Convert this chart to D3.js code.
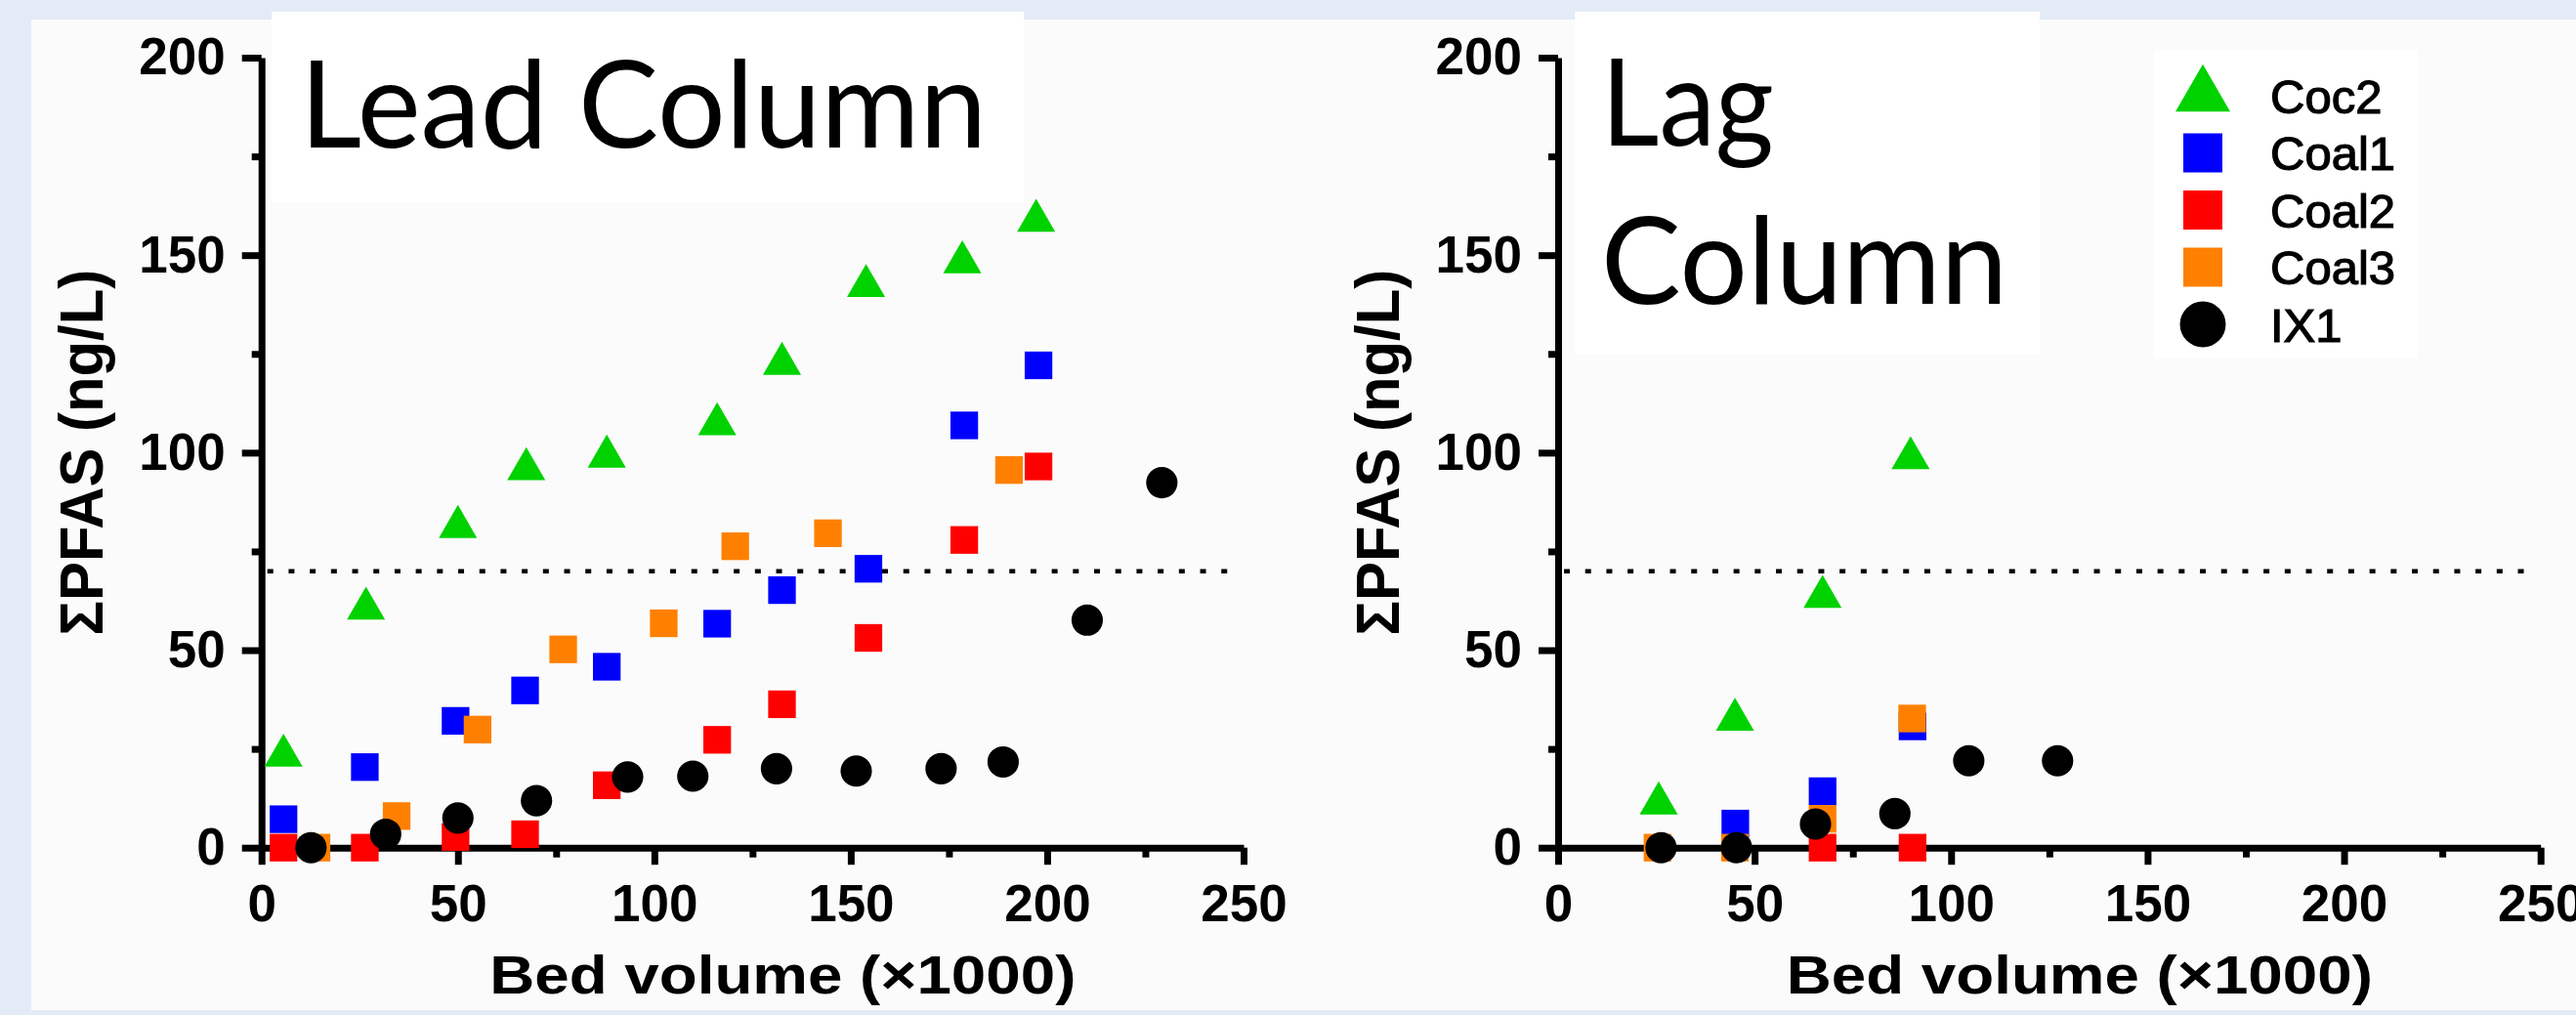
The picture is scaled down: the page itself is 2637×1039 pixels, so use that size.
<!DOCTYPE html>
<html>
<head>
<meta charset="utf-8">
<script src="https://cdn.jsdelivr.net/npm/d3@7"></script>
<style>
  html, body { margin: 0; padding: 0; background: #e3ebf6; }
  svg { display: block; }
</style>
</head>
<body>
<svg id="chart" width="2637" height="1039"></svg>
<script>
// ---- data -------------------------------------------------------------
const seriesNames = ["Coc2", "Coal1", "Coal2", "Coal3", "IX1"];

// Lead column: [bed volume (x1000), sum PFAS (ng/L)]
const leadCoc2  = [[5.6,23.3],[26.6,60.5],[50,81.2],[67.4,95.8],[87.9,99],[116,107.2],[132.5,122.5],[153.9,142.2],[178.4,148.2],[197.2,158.7]];
const leadCoal1 = [[5.6,7.2],[26.3,20.4],[49.4,32.1],[67.1,39.8],[87.9,45.8],[116,56.7],[132.5,65.2],[154.5,70.6],[178.9,106.9],[197.8,122.1]];
const leadCoal2 = [[5.6,0],[26.3,0],[49.4,2.7],[67.1,3.4],[87.9,15.8],[116,27.3],[132.5,36.3],[154.5,53.1],[178.9,77.9],[197.8,96.5]];
const leadCoal3 = [[14,0],[34.4,8],[55,29.9],[76.8,50.2],[102.4,56.8],[120.6,76.3],[144.2,79.6],[190.3,95.6]];
const leadIX1   = [[12.6,0],[31.6,3.4],[50,7.5],[70,11.9],[93.2,17.9],[109.8,18.1],[131.1,20],[151.4,19.4],[173,20],[188.8,21.7],[210.2,57.6],[229.2,92.4]];

// Lag column
const lagCoc2  = [[25.6,11.2],[45,32.4],[67.3,63.5],[89.7,98.6]];
const lagCoal1 = [[45.1,6.1],[67.3,14.3],[90.2,30.7]];
const lagCoal2 = [[67.3,0],[90.2,0]];
const lagCoal3 = [[25.3,0],[45,0],[67.3,7.3],[90.1,32.7]];
const lagIX1   = [[26.2,0],[45.4,0],[65.5,6],[85.7,8.6],[104.5,22],[127.1,22]];

// Guideline level (ng/L)
const thresholdLevel = 70;
const thresholdSpan = [1.5, 248.5];

// Axes
const xDomain = [0, 250];
const yDomain = [0, 200];
const xMajorTicks = [0, 50, 100, 150, 200, 250];
const xMinorTicks = [25, 75, 125, 175, 225];
const yMajorTicks = [0, 50, 100, 150, 200];
const yMinorTicks = [25, 75, 125, 175];
const xTitle = "Bed volume (\u00D71000)";
const yTitle = "\u03A3PFAS (ng/L)";

// ---- styles -----------------------------------------------------------
const seriesColors = ["#00d200", "#0000ff", "#ff0000", "#ff8000", "#000000"];
const seriesShapes = [d3.symbolTriangle, d3.symbolSquare, d3.symbolSquare, d3.symbolSquare, d3.symbolCircle];
const plotSizes    = [660, 800, 800, 800, 810];
const legendSizes  = [1360, 1600, 1600, 1600, 1730];

const AXIS_FONT = "'Liberation Sans', Arial, sans-serif";
const LABEL_FONT = "Lato, 'Open Sans', sans-serif";

const svg = d3.select("#chart");

// page frame and plotting area
svg.append("rect").attr("x", 0).attr("y", 0).attr("width", 2637).attr("height", 1039).attr("fill", "#e3ebf6");
svg.append("rect").attr("x", 32).attr("y", 20).attr("width", 2605).attr("height", 1014).attr("fill", "#fbfbfb");

const panels = [
  { x0: 267.7, x1: 1273, series: [leadCoc2, leadCoal1, leadCoal2, leadCoal3, leadIX1],
    box: [278, 12, 770, 195], title: ["Lead Column"], titleLen: [703], titleX: 307, titleY: [151] },
  { x0: 1595, x1: 2600.7, series: [lagCoc2, lagCoal1, lagCoal2, lagCoal3, lagIX1],
    box: [1612, 12, 476, 351], title: ["Lag", "Column"], titleLen: [177, 416], titleX: 1639, titleY: [149, 311],
    legend: true }
];

const yTop = 59, yBottom = 867.7;

panels.forEach(p => {
  const g = svg.append("g");
  const x = d3.scaleLinear().domain(xDomain).range([p.x0, p.x1]);
  const y = d3.scaleLinear().domain(yDomain).range([yBottom, yTop]);

  // white label box behind the column name
  g.append("rect")
    .attr("x", p.box[0]).attr("y", p.box[1]).attr("width", p.box[2]).attr("height", p.box[3])
    .attr("fill", "#ffffff");

  p.title.forEach((t, i) => {
    g.append("text")
      .attr("x", p.titleX).attr("y", p.titleY[i])
      .attr("font-family", LABEL_FONT).attr("font-size", 125)
      .attr("textLength", p.titleLen[i]).attr("lengthAdjust", "spacingAndGlyphs")
      .attr("fill", "#000").text(t);
  });

  // dotted guideline
  g.append("line")
    .attr("x1", x(thresholdSpan[0])).attr("x2", x(thresholdSpan[1]))
    .attr("y1", y(thresholdLevel)).attr("y2", y(thresholdLevel))
    .attr("stroke", "#000").attr("stroke-width", 4.5)
    .attr("stroke-dasharray", "6 15.7");

  // minor ticks
  const xMinor = g.append("g").attr("transform", `translate(0,${yBottom})`)
    .call(d3.axisBottom(x).tickValues(xMinorTicks).tickSize(10).tickFormat(""));
  const yMinor = g.append("g").attr("transform", `translate(${p.x0},0)`)
    .call(d3.axisLeft(y).tickValues(yMinorTicks).tickSize(10).tickFormat(""));
  [xMinor, yMinor].forEach(a => {
    a.select(".domain").remove();
    a.selectAll("line").attr("stroke", "#000").attr("stroke-width", 7);
  });

  // major axes
  const xAxis = g.append("g").attr("transform", `translate(0,${yBottom})`)
    .call(d3.axisBottom(x).tickValues(xMajorTicks).tickSize(17.5).tickSizeOuter(0).tickPadding(20));
  const yAxis = g.append("g").attr("transform", `translate(${p.x0},0)`)
    .call(d3.axisLeft(y).tickValues(yMajorTicks).tickSize(20).tickSizeOuter(0).tickPadding(17));
  [xAxis, yAxis].forEach(a => {
    a.select(".domain").attr("stroke", "#000").attr("stroke-width", 7);
    a.selectAll(".tick line").attr("stroke", "#000").attr("stroke-width", 7);
    a.selectAll("text").attr("font-family", AXIS_FONT).attr("font-weight", "bold")
      .attr("font-size", 53).attr("fill", "#000");
  });

  // axis titles
  g.append("text")
    .attr("x", (p.x0 + p.x1) / 2 + 31).attr("y", 1017)
    .attr("text-anchor", "middle")
    .attr("font-family", AXIS_FONT).attr("font-weight", "bold").attr("font-size", 55)
    .attr("textLength", 600).attr("lengthAdjust", "spacingAndGlyphs")
    .text(xTitle);
  g.append("text")
    .attr("transform", `translate(${p.x0 - 163},${(yTop + yBottom) / 2}) rotate(-90)`)
    .attr("text-anchor", "middle")
    .attr("font-family", AXIS_FONT).attr("font-weight", "bold").attr("font-size", 63)
    .attr("textLength", 375).attr("lengthAdjust", "spacingAndGlyphs")
    .text(yTitle);

  // data points
  p.series.forEach((pts, si) => {
    const sym = d3.symbol().type(seriesShapes[si]).size(plotSizes[si]);
    g.append("g").selectAll("path").data(pts).join("path")
      .attr("d", sym)
      .attr("transform", d => `translate(${x(d[0])},${y(d[1])})`)
      .attr("fill", seriesColors[si]);
  });

  // legend
  if (p.legend) {
    const lg = g.append("g");
    lg.append("rect").attr("x", 2205).attr("y", 52).attr("width", 270).attr("height", 315).attr("fill", "#ffffff");
    seriesNames.forEach((name, si) => {
      const cy = 98 + si * 58.5;
      lg.append("path")
        .attr("d", d3.symbol().type(seriesShapes[si]).size(legendSizes[si]))
        .attr("transform", `translate(2255,${cy})`)
        .attr("fill", seriesColors[si]);
      lg.append("text")
        .attr("x", 2324).attr("y", cy).attr("dy", "0.36em")
        .attr("font-family", AXIS_FONT).attr("font-size", 49)
        .attr("stroke", "#000").attr("stroke-width", 1.2)
        .attr("fill", "#000").text(name);
    });
  }
});
</script>
</body>
</html>
